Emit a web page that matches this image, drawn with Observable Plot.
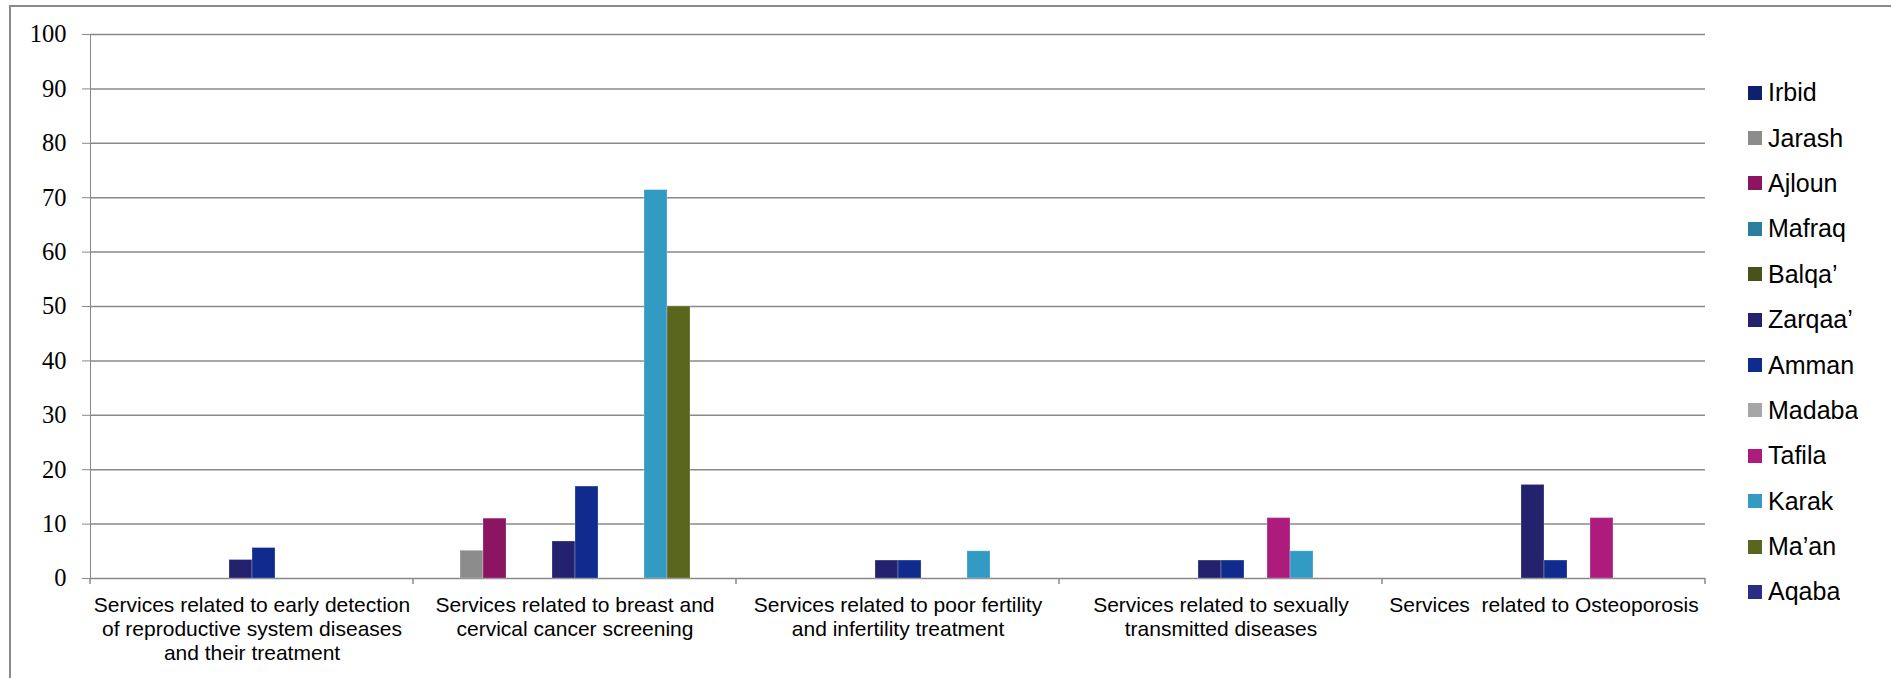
<!DOCTYPE html>
<html>
<head>
<meta charset="utf-8">
<script src="https://cdn.jsdelivr.net/npm/d3@7"></script>
<script src="https://cdn.jsdelivr.net/npm/@observablehq/plot@0.6"></script>
<style>
html, body { margin: 0; padding: 0; background: #fff; }
#wrap { position: relative; width: 1892px; height: 678px; overflow: hidden; }
#border { position: absolute; left: 9px; top: 5px; width: 1880px; height: 700px;
  border-top: 2px solid #8a8a8a; border-left: 2px solid #8a8a8a; pointer-events: none; }
#chart { position: absolute; left: 0; top: 0; }
#chart svg text { fill: #000; }
#legend { position: absolute; left: 1748px; top: 70px; }
#legend > div { margin: 0 !important; columns: auto !important; font-family: "Liberation Sans", Arial, sans-serif !important; font-size: 25px !important; color: #000; }
#legend > div > div { height: 45.4px; display: flex !important; align-items: center; padding: 0 !important; margin: 0 !important; }
#legend svg { margin-right: 6px !important; }
</style>
</head>
<body>
<div id="wrap">
  <div id="chart"></div>
  <div id="border"></div>
  <div id="legend"></div>
</div>
<script>
// Categories (x-axis groups) and their tick labels
const groups = ["early", "breast", "fertility", "sexual", "osteo"];
const groupLabels = [
  "Services related to early detection\nof reproductive system diseases\nand their treatment",
  "Services related to breast and\ncervical cancer screening",
  "Services related to poor fertility\nand infertility treatment",
  "Services related to sexually\ntransmitted diseases",
  "Services\u00a0 related to Osteoporosis"
];

// Series (governorates) and colours
const series = ["Irbid", "Jarash", "Ajloun", "Mafraq", "Balqa’", "Zarqaa’", "Amman", "Madaba", "Tafila", "Karak", "Ma’an", "Aqaba"];
const colors = ["#0f206e", "#8c8c8c", "#8b1561", "#2a7f9e", "#4a5119", "#24226e", "#0f2b8e", "#a6a6a6", "#ad1c7c", "#339ac3", "#5a661d", "#2c2c86"];

// Values per series, one per group
const irbid   = [0, 0, 0, 0, 0];
const jarash  = [0, 5.1, 0, 0, 0];
const ajloun  = [0, 11.0, 0, 0, 0];
const mafraq  = [0, 0, 0, 0, 0];
const balqa   = [0, 0, 0, 0, 0];
const zarqaa  = [3.4, 6.8, 3.3, 3.3, 17.2];
const amman   = [5.6, 16.9, 3.3, 3.3, 3.3];
const madaba  = [0, 0, 0, 0, 0];
const tafila  = [0, 0, 0, 11.1, 11.1];
const karak   = [0, 71.4, 5.0, 5.0, 0];
const maan    = [0, 50.0, 0, 0, 0];
const aqaba   = [0, 0, 0, 0, 0];

// Y-axis ticks
const yTicks = [0, 10, 20, 30, 40, 50, 60, 70, 80, 90, 100];

const seriesValues = [irbid, jarash, ajloun, mafraq, balqa, zarqaa, amman, madaba, tafila, karak, maan, aqaba];
const data = series.flatMap((s, si) => groups.map((g, gi) => ({group: g, series: s, value: seriesValues[si][gi]})));
const labelOf = new Map(groups.map((g, i) => [g, groupLabels[i]]));

const chart = Plot.plot({
  width: 1892,
  height: 678,
  marginLeft: 89,
  marginRight: 186,
  marginTop: 34,
  marginBottom: 100,
  style: {fontFamily: '"Liberation Serif", "Times New Roman", serif', fontSize: "24.5px", color: "#898989", background: "transparent", overflow: "visible"},
  fx: {domain: groups, padding: 0, label: null},
  x: {domain: series, paddingInner: 0, paddingOuter: 0.75, axis: null},
  y: {domain: [0, 100], ticks: yTicks, tickSize: 8, tickPadding: 16, line: true, label: null},
  color: {domain: series, range: colors},
  marks: [
    Plot.ruleY(yTicks, {stroke: "#898989", strokeWidth: 1.5}),
    Plot.barY(data, {fx: "group", x: "series", y: "value", fill: "series", stroke: "#ffffff", strokeOpacity: 0.25, strokeWidth: 1}),
    Plot.axisFx({
      anchor: "bottom", tickSize: 0, tickPadding: 16, lineHeight: 1.15,
      fontFamily: '"Liberation Sans", Arial, sans-serif', fontSize: 21, label: null,
      tickFormat: d => labelOf.get(d)
    })
  ]
});
document.getElementById("chart").appendChild(chart);

// Category boundary ticks below the baseline, placed from the fx and y scales
const fx = chart.scale("fx");
const ys = chart.scale("y");
const y0 = ys.apply(0);
const edges = groups.map(g => fx.apply(g)).concat([fx.apply(groups[groups.length - 1]) + fx.bandwidth]);
d3.select(chart).append("g")
  .selectAll("line").data(edges).join("line")
  .attr("x1", d => d).attr("x2", d => d)
  .attr("y1", y0).attr("y2", y0 + 6)
  .attr("stroke", "#898989").attr("stroke-width", 1.5);

const legend = Plot.legend({
  color: {domain: series, range: colors},
  legend: "swatches",
  columns: 1,
  swatchSize: 14
});
document.getElementById("legend").appendChild(legend);
</script>
</body>
</html>
